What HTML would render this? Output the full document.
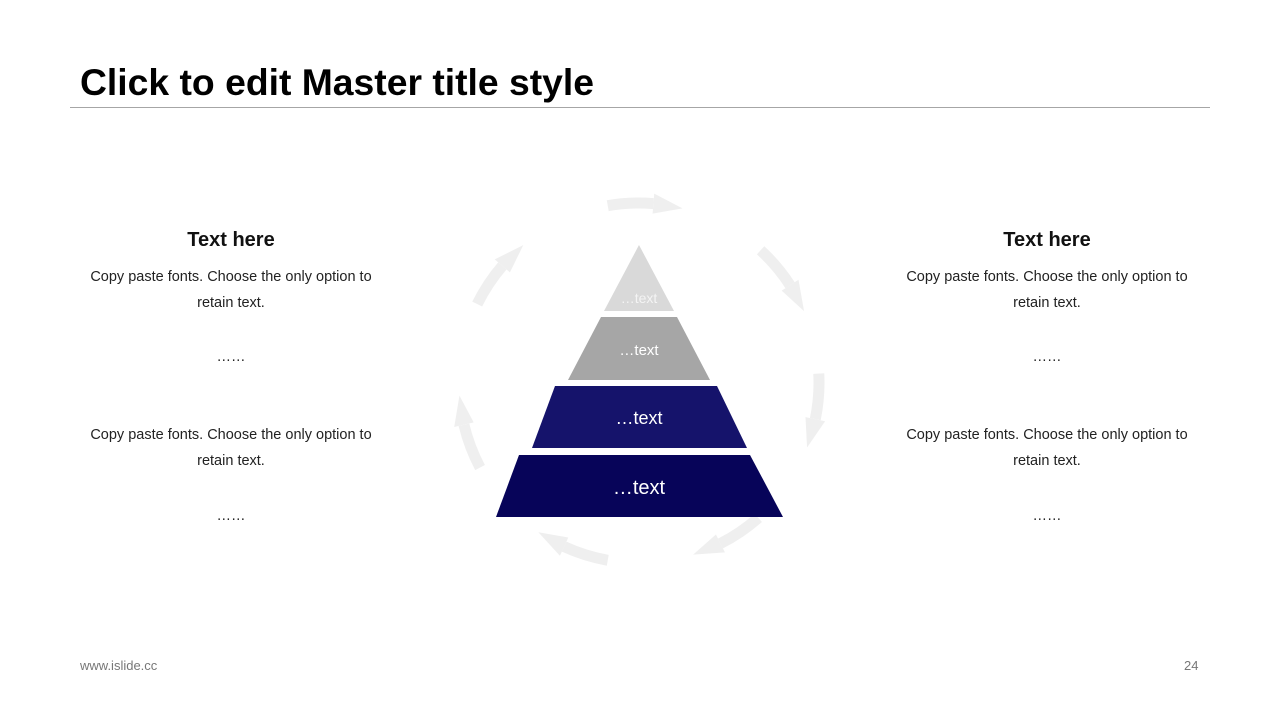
<!DOCTYPE html>
<html><head><meta charset="utf-8"><style>
body{margin:0;width:1280px;height:720px;background:#fff;position:relative;overflow:hidden;font-family:"Liberation Sans",Arial,sans-serif}
.t{position:absolute;white-space:nowrap}
.c{position:absolute;text-align:center;width:320px;transform:translateX(-50%)}
.h{font-weight:bold;font-size:20px;color:#111}
.b{font-size:14.5px;color:#222;line-height:26px}
</style></head><body>
<div class="t" style="left:80px;top:61px;font-size:37.3px;font-weight:bold;color:#000">Click to edit Master title style</div>
<div style="position:absolute;left:70px;top:107px;width:1140px;height:1px;background:#a6a6a6"></div>

<div class="c h" style="left:231px;top:229px">Text here</div>
<div class="c b" style="left:231px;top:264px">Copy paste fonts. Choose the only option to<br>retain text.</div>
<div class="c b" style="left:231px;top:344px">……</div>
<div class="c b" style="left:231px;top:422px">Copy paste fonts. Choose the only option to<br>retain text.</div>
<div class="c b" style="left:231px;top:503px">……</div>

<div class="c h" style="left:1047px;top:229px">Text here</div>
<div class="c b" style="left:1047px;top:264px">Copy paste fonts. Choose the only option to<br>retain text.</div>
<div class="c b" style="left:1047px;top:344px">……</div>
<div class="c b" style="left:1047px;top:422px">Copy paste fonts. Choose the only option to<br>retain text.</div>
<div class="c b" style="left:1047px;top:503px">……</div>

<svg width="1280" height="720" style="position:absolute;left:0;top:0">
<defs>
<g id="arr">
<path d="M175.4,-40.5 A180,180 0 0 1 179.9,5.0" fill="none" stroke="#efefef" stroke-width="11"/>
<polygon points="169.9,4.7 189.9,5.3 176.7,34.3" fill="#efefef"/>
</g>
</defs>
<g transform="translate(639,383)">
<use href="#arr" transform="rotate(-87)"/>
<use href="#arr" transform="rotate(-34.5)"/>
<use href="#arr" transform="rotate(10)"/>
<use href="#arr" transform="rotate(61.5)"/>
<use href="#arr" transform="rotate(113)"/>
<use href="#arr" transform="rotate(165)"/>
<use href="#arr" transform="rotate(219)"/>
</g>
<polygon points="639,245 674,311 604,311" fill="#d9d9d9"/>
<polygon points="601,317 677,317 710,380 568,380" fill="#a6a6a6"/>
<polygon points="555,386 717,386 747,448 532,448" fill="#15136b"/>
<polygon points="519,455 750,455 783,517 496,517" fill="#070459"/>
<g font-family="Liberation Sans,Arial,sans-serif" fill="#fff" text-anchor="middle">
<text x="639" y="303" font-size="14" fill="#f4f4f4">…text</text>
<text x="639" y="355" font-size="15">…text</text>
<text x="639" y="424" font-size="18">…text</text>
<text x="639" y="494" font-size="20">…text</text>
</g>
</svg>

<div class="t" style="left:80px;top:658px;font-size:13px;color:#777">www.islide.cc</div>
<div class="t" style="left:1184px;top:658px;font-size:13px;color:#777">24</div>
</body></html>
